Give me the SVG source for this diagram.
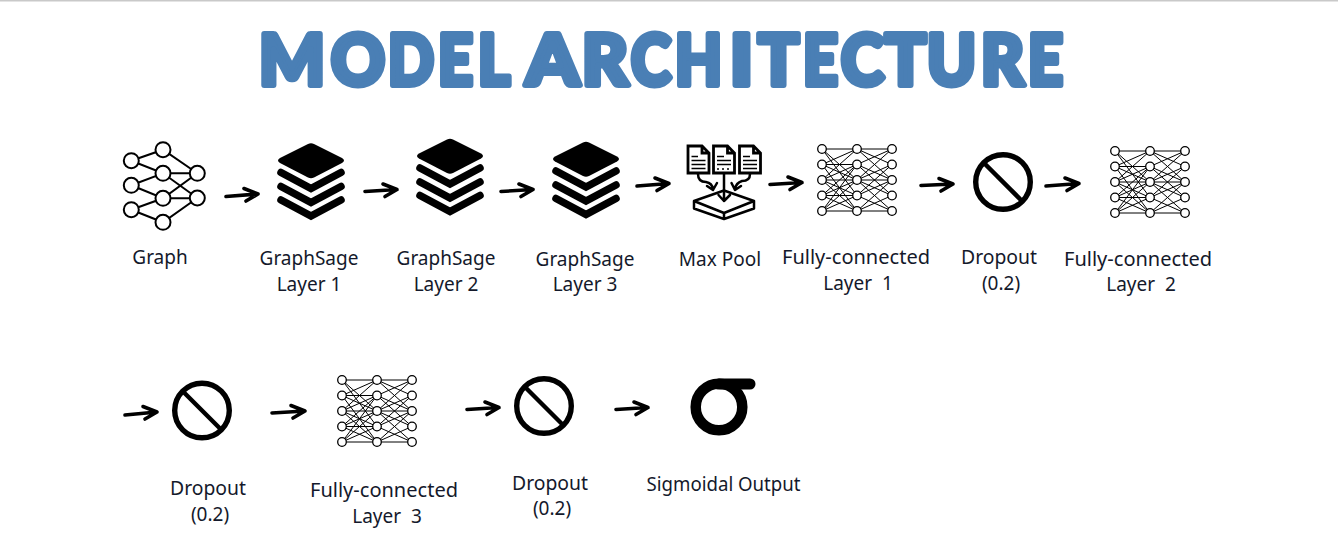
<svg xmlns="http://www.w3.org/2000/svg" width="1338" height="556" viewBox="0 0 1338 556">
<style>
.lb{font-family:"Noto Sans","Open Sans",sans-serif;font-size:19px;fill:#14192b;text-anchor:middle}
.ttl{font-family:"Lato","Noto Sans",sans-serif;font-weight:900;font-size:70px;fill:#4a7fb5;stroke:#4a7fb5;stroke-width:6;stroke-linejoin:round}
.ar{fill:none;stroke:#000;stroke-width:3.6;stroke-linecap:round;stroke-linejoin:round}
.e{fill:none;stroke:#000;stroke-width:1}
.n{fill:#fff;stroke:#000;stroke-width:1.3}
.ic{fill:none;stroke:#000;stroke-width:2.500;stroke-linejoin:round;stroke-linecap:round}
</style>
<defs>
<g id="stack">
<path d="M-31 -2.500L-3 -16.500Q0 -18 3 -16.500L31 -2.500Q35 0 31 2.500L3 17Q0 18.500 -3 17L-31 2.500Q-35 0 -31 -2.500Z" fill="#000"/>
<path d="M-30 12L0 28L30 12M-30 26L0 42L30 26M-30 39.500L0 55.500L30 39.500" fill="none" stroke="#000" stroke-width="7.500" stroke-linecap="round" stroke-linejoin="miter"/>
</g>
<g id="fc">
<path class="e" d="M-35 -31H35M-35 -15.500H0M-35 0H35M-35 15.500H0M-35 31H35
M-35 -31L0 0M-35 -31L0 15.500M-35 -15.500L0 -31M-35 -15.500L0 0M-35 -15.500L0 31M-35 0L0 -31M-35 0L0 -15.500M-35 0L0 15.500M-35 0L0 31M-35 15.500L0 -15.500M-35 15.500L0 0M-35 15.500L0 31M-35 31L0 -15.500M-35 31L0 0M-35 31L0 15.500
M0 -31L35 0M0 -31L35 -15.500M0 -15.500L35 -31M0 -15.500L35 0M0 -15.500L35 15.500M0 0L35 -31M0 0L35 -15.500M0 0L35 15.500M0 0L35 31M0 15.500L35 -15.500M0 15.500L35 0M0 15.500L35 31M0 31L35 0M0 31L35 15.500"/>
<g class="n">
<circle cx="-35" cy="-31" r="4.300"/><circle cx="-35" cy="-15.500" r="4.300"/><circle cx="-35" cy="0" r="4.300"/><circle cx="-35" cy="15.500" r="4.300"/><circle cx="-35" cy="31" r="4.300"/>
<circle cx="0" cy="-31" r="4.300"/><circle cx="0" cy="-15.500" r="4.300"/><circle cx="0" cy="0" r="4.300"/><circle cx="0" cy="15.500" r="4.300"/><circle cx="0" cy="31" r="4.300"/>
<circle cx="35" cy="-31" r="4.300"/><circle cx="35" cy="-15.500" r="4.300"/><circle cx="35" cy="0" r="4.300"/><circle cx="35" cy="15.500" r="4.300"/><circle cx="35" cy="31" r="4.300"/>
</g>
</g>
<g id="ban">
<circle r="27.300" fill="none" stroke="#000" stroke-width="5.400"/>
<path d="M-19.500 -19.500L19.500 19.500" stroke="#000" stroke-width="4.500"/>
</g>
<path id="doc" d="M0 0H14L21 7V27H0ZM14 0V7H21" fill="#fff" stroke="#000" stroke-width="2.800" stroke-linejoin="miter"/>
</defs>
<rect width="1338" height="556" fill="#fff"/>
<rect width="1338" height="1.500" fill="#c9c9c9"/>
<g id="title"><text class="ttl" y="85"><tspan x="259" textLength="66" lengthAdjust="spacingAndGlyphs">M</tspan><tspan x="331" textLength="54" lengthAdjust="spacingAndGlyphs">O</tspan><tspan x="388" textLength="46" lengthAdjust="spacingAndGlyphs">D</tspan><tspan x="438" textLength="35" lengthAdjust="spacingAndGlyphs">E</tspan><tspan x="478" textLength="32" lengthAdjust="spacingAndGlyphs">L</tspan><tspan x="526" textLength="53" lengthAdjust="spacingAndGlyphs">A</tspan><tspan x="582" textLength="46" lengthAdjust="spacingAndGlyphs">R</tspan><tspan x="631" textLength="40" lengthAdjust="spacingAndGlyphs">C</tspan><tspan x="675" textLength="47" lengthAdjust="spacingAndGlyphs">H</tspan><tspan x="730" textLength="23" lengthAdjust="spacingAndGlyphs">I</tspan><tspan x="758" textLength="41" lengthAdjust="spacingAndGlyphs">T</tspan><tspan x="803" textLength="35" lengthAdjust="spacingAndGlyphs">E</tspan><tspan x="841" textLength="43" lengthAdjust="spacingAndGlyphs">C</tspan><tspan x="885" textLength="41" lengthAdjust="spacingAndGlyphs">T</tspan><tspan x="927" textLength="49" lengthAdjust="spacingAndGlyphs">U</tspan><tspan x="981" textLength="43" lengthAdjust="spacingAndGlyphs">R</tspan><tspan x="1028" textLength="35" lengthAdjust="spacingAndGlyphs">E</tspan></text></g>

<g id="connectors">
<g class="ar">
<path d="M226 196.500L258 194M244 188.500L258 194L246 201"/>
<path d="M365 191.500L397 189.500M383 184L397 189.500L385 196.500"/>
<path d="M501 191.500L533 189.500M519 184L533 189.500L521 196.500"/>
<path d="M637 186L669 183.500M655 178L669 183.500L657 190.500"/>
<path d="M770 184.500L802 182.500M788 177L802 182.500L790 189.500"/>
<path d="M921 185.500L953 184M939 178.500L953 184L941 191"/>
<path d="M1046 186L1079 183.500M1065 178L1079 183.500L1067 190.500"/>
<path d="M125 415L157 412M143 406.500L157 412L145 419"/>
<path d="M272 413L305 411M291 405.500L305 411L293 418"/>
<path d="M467 409.500L499 407.500M485 402L499 407.500L487 414.500"/>
<path d="M616 409.500L648 407.500M634 402L648 407.500L636 414.500"/>
</g>
</g>

<g id="graph">
<path d="M131.300 160.700L163 149.700L197.300 173.300M131.300 160.700L163 173.300L197.300 173.300M131.300 185.300L163 173.300L197.300 198M131.300 185.300L163 198.300L197.300 198M131.300 209.700L163 198.300L197.300 173.300M131.300 209.700L163 222.300L197.300 198" fill="none" stroke="#000" stroke-width="2"/>
<g fill="#fff" stroke="#000" stroke-width="2">
<circle cx="131.300" cy="160.700" r="7.500"/><circle cx="131.300" cy="185.300" r="7.500"/><circle cx="131.300" cy="209.700" r="7.500"/>
<circle cx="163" cy="149.700" r="7.500"/><circle cx="163" cy="173.300" r="7.500"/><circle cx="163" cy="198.300" r="7.500"/><circle cx="163" cy="222.300" r="7.500"/>
<circle cx="197.300" cy="173.300" r="7.500"/><circle cx="197.300" cy="198" r="7.500"/>
</g>
<text class="lb" x="160" y="264">Graph</text>
</g>
<g id="sage1"><use href="#stack" x="311" y="160.500"/><text class="lb" x="309" y="265">GraphSage</text><text class="lb" x="309" y="291">Layer 1</text></g>
<g id="sage2"><use href="#stack" x="450" y="156"/><text class="lb" x="446" y="265">GraphSage</text><text class="lb" x="446" y="291">Layer 2</text></g>
<g id="sage3"><use href="#stack" x="586" y="159"/><text class="lb" x="585" y="266">GraphSage</text><text class="lb" x="585" y="291">Layer 3</text></g>

<g id="maxpool">
<use href="#doc" x="688" y="146"/><use href="#doc" x="713.500" y="146"/><use href="#doc" x="739.500" y="146"/>
<path d="M691.500 156.500H698M691.500 160.500H705.500M691.500 164.500H705.500M691.500 168.500H705.500M717 156.500H724M717 160.500H731M717 164.500H731M717 169H719M722 169H724M727 169H729M743 156.500H750M743 160.500H757M743 164.500H757M743 168.500H757" stroke="#000" stroke-width="1.700" fill="none"/>
<g class="ic">
<path d="M694 201L724 190.500L754 201L724 213ZM694 201V208.500L724 219L754 208.500V201M724 213V219"/>
<path d="M698 174Q698 182 706 182Q712 183 713 189M707 186L713 190L717 183"/>
<path d="M724 174V201M718.500 195L724 201L730 195"/>
<path d="M750 174Q750 181 742 181Q736 183 735 189M731.500 183L735 190L741 186"/>
</g>
<text class="lb" x="720" y="266">Max Pool</text>
</g>

<g id="fc1"><use href="#fc" x="857" y="180"/><text class="lb" x="856" y="264" textLength="148" lengthAdjust="spacingAndGlyphs">Fully-connected</text><text class="lb" x="858" y="290" xml:space="preserve">Layer  1</text></g>
<g id="drop1"><use href="#ban" x="1003" y="182"/><text class="lb" x="999" y="264" textLength="76" lengthAdjust="spacingAndGlyphs">Dropout</text><text class="lb" x="1001" y="290">(0.2)</text></g>
<g id="fc2"><use href="#fc" x="1150" y="182"/><text class="lb" x="1138" y="266" textLength="148" lengthAdjust="spacingAndGlyphs">Fully-connected</text><text class="lb" x="1141" y="291" xml:space="preserve">Layer  2</text></g>
<g id="drop2"><use href="#ban" x="202" y="410.500"/><text class="lb" x="208" y="495" textLength="76" lengthAdjust="spacingAndGlyphs">Dropout</text><text class="lb" x="210" y="521">(0.2)</text></g>
<g id="fc3"><use href="#fc" x="377" y="411"/><text class="lb" x="384" y="497" textLength="148" lengthAdjust="spacingAndGlyphs">Fully-connected</text><text class="lb" x="387" y="523" xml:space="preserve">Layer  3</text></g>
<g id="drop3"><use href="#ban" x="544" y="406"/><text class="lb" x="550" y="490" textLength="76" lengthAdjust="spacingAndGlyphs">Dropout</text><text class="lb" x="552" y="515">(0.2)</text></g>
<g id="sigmoid">
<circle cx="719" cy="407" r="23.300" fill="none" stroke="#000" stroke-width="10.500"/>
<path d="M719 384H750" stroke="#000" stroke-width="11" stroke-linecap="round"/>
<text class="lb" x="723.500" y="491" textLength="154" lengthAdjust="spacingAndGlyphs">Sigmoidal Output</text>
</g>
</svg>
